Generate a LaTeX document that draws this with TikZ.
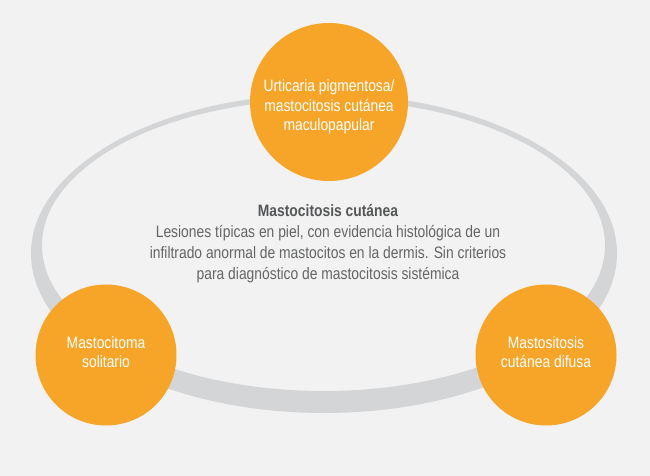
\documentclass[tikz,border=0pt]{standalone}
\usepackage{fontspec}
\setmainfont{Liberation Sans}[FakeStretch=0.84]
\usepackage{tikz}
\usetikzlibrary{positioning}

\definecolor{bgcol}{HTML}{F2F2F2}
\definecolor{ringcol}{HTML}{D4D5D7}
\definecolor{orangecol}{HTML}{F6A528}
\definecolor{titlecol}{HTML}{555657}
\definecolor{bodycol}{HTML}{646566}

\begin{document}
\begin{tikzpicture}[x=1pt,y=-1pt,
    bubble/.style={circle,fill=orangecol,inner sep=0pt},
    bubbletext/.style={text=white,align=center,inner sep=0pt,
        font=\fontsize{16.5}{19.5}\selectfont},
    infotext/.style={align=center,text=bodycol,
        font=\fontsize{16.5}{21}\selectfont}
]

\fill[bgcol] (0,0) rectangle (650,476);
\useasboundingbox (0,0) rectangle (650,476);

% ring
\fill[ringcol,even odd rule] (324,253.5) ellipse [x radius=293,y radius=159.5]
    (323.5,245.3) ellipse [x radius=281.5,y radius=145.7];

% centre text
\node[infotext] (desc) at (328,244) {{\color{titlecol}\bfseries Mastocitosis cutánea}\\
    Lesiones típicas en piel, con evidencia histológica de un\\
    infiltrado anormal de mastocitos en la dermis. Sin criterios\\
    para diagnóstico de mastocitosis sistémica};

% circles
\node[bubble,minimum size=158pt] (urtic) at (329,102) {};
\node[bubble,minimum size=141pt] (solit) at (106,355) {};
\node[bubble,minimum size=141pt] (difus) at (546,355) {};

\node[bubbletext] (urtictext) at ([yshift=-5pt]urtic.center)
    {Urticaria pigmentosa/\\mastocitosis cutánea\\maculopapular};
\node[bubbletext] (solittext) at ([yshift=3pt]solit.center)
    {Mastocitoma\\solitario};
\node[bubbletext] (difustext) at ([yshift=3pt]difus.center)
    {Mastositosis\\cutánea difusa};

\end{tikzpicture}
\end{document}
